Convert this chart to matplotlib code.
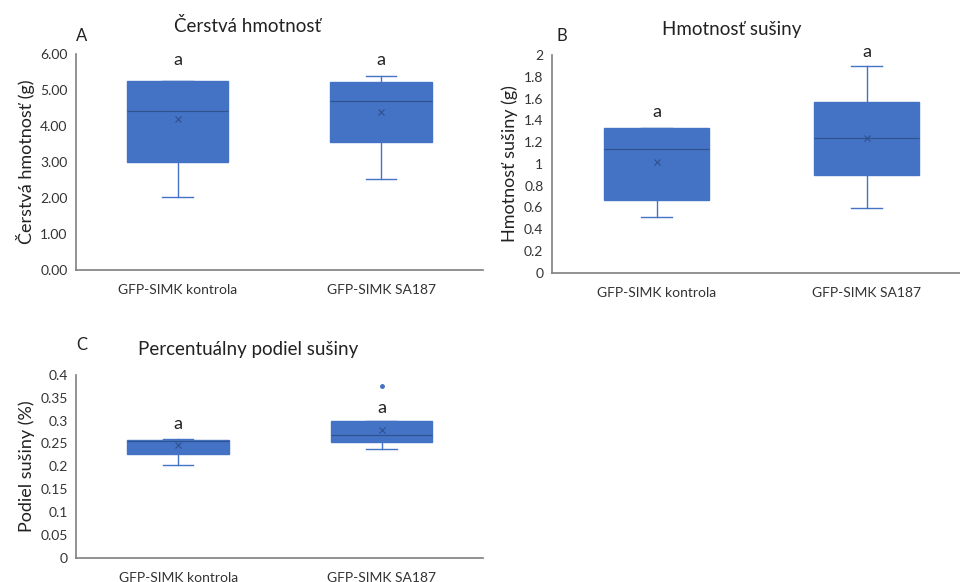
import matplotlib.pyplot as plt

plt.rcParams['font.family'] = ['Lato', 'DejaVu Sans']

# category labels
groups = ['GFP-SIMK kontrola', 'GFP-SIMK SA187']

# A - fresh weight (g)
a_q1 = [3.00, 3.56]
a_med = [4.42, 4.70]
a_q3 = [5.25, 5.23]
a_lo = [2.02, 2.53]
a_hi = [5.25, 5.40]
a_mean = [4.19, 4.38]
a_fliers = [[], []]
a_letters = ['a', 'a']
a_letter_y = [5.83, 5.83]

# B - dry weight (g)
b_q1 = [0.665, 0.90]
b_med = [1.137, 1.238]
b_q3 = [1.327, 1.569]
b_lo = [0.51, 0.595]
b_hi = [1.327, 1.90]
b_mean = [1.02, 1.24]
b_fliers = [[], []]
b_letters = ['a', 'a']
b_letter_y = [1.48, 2.03]

# C - dry matter share (%)
c_q1 = [0.228, 0.2525]
c_med = [0.255, 0.2686]
c_q3 = [0.2577, 0.299]
c_lo = [0.203, 0.239]
c_hi = [0.259, 0.299]
c_mean = [0.246, 0.2796]
c_fliers = [[], [0.376]]
c_letters = ['a', 'a']
c_letter_y = [0.292, 0.327]

BLUE = '#4472C4'
DARK = '#2F528F'
AXC = '#7f7f7f'


def make_stats(q1, med, q3, lo, hi, mean, fliers):
    out = []
    for i in range(len(q1)):
        out.append(dict(q1=q1[i], med=med[i], q3=q3[i], whislo=lo[i],
                        whishi=hi[i], mean=mean[i], fliers=fliers[i]))
    return out


def panel(ax, stats, letters, letter_y, ylim, yticks, fmt, ylabel):
    ax.bxp(stats, positions=[1, 2], widths=0.5, patch_artist=True,
           showmeans=True, capwidths=0.15,
           boxprops=dict(facecolor=BLUE, edgecolor=BLUE, linewidth=1),
           whiskerprops=dict(color=BLUE, linewidth=1),
           capprops=dict(color=BLUE, linewidth=1),
           medianprops=dict(color=DARK, linewidth=0.8),
           meanprops=dict(marker='x', markeredgecolor=DARK, markersize=5,
                          markeredgewidth=0.8),
           flierprops=dict(marker='o', markerfacecolor=BLUE,
                           markeredgecolor=BLUE, markersize=2.5))
    for i, t in enumerate(letters):
        ax.text(i + 1, letter_y[i], t, ha='center', va='center',
                fontsize=13, color='#222222', clip_on=False)
    ax.set_xlim(0.5, 2.5)
    ax.set_ylim(*ylim)
    ax.set_yticks(yticks)
    ax.set_yticklabels([fmt.format(v) for v in yticks])
    ax.set_xticks([1, 2])
    ax.set_xticklabels(groups)
    ax.tick_params(length=0, labelsize=10, colors='#333333', pad=6)
    ax.tick_params(axis='x', pad=10)
    for s in ['top', 'right']:
        ax.spines[s].set_visible(False)
    for s in ['left', 'bottom']:
        ax.spines[s].set_color(AXC)
        ax.spines[s].set_linewidth(1.2)
    ax.set_ylabel(ylabel, fontsize=13, color='#222222')


fig = plt.figure(figsize=(9.6, 5.82), dpi=100)

axA = fig.add_axes([0.079, 0.536, 0.424, 0.371])
panel(axA, make_stats(a_q1, a_med, a_q3, a_lo, a_hi, a_mean, a_fliers),
      a_letters, a_letter_y, (0, 6), [0, 1, 2, 3, 4, 5, 6], '{:.2f}',
      'Čerstvá hmotnosť (g)')

axB = fig.add_axes([0.5747, 0.5314, 0.4375, 0.3741])
panel(axB, make_stats(b_q1, b_med, b_q3, b_lo, b_hi, b_mean, b_fliers),
      b_letters, b_letter_y, (0, 2),
      [0, 0.2, 0.4, 0.6, 0.8, 1, 1.2, 1.4, 1.6, 1.8, 2], '{:g}',
      'Hmotnosť sušiny (g)')

axC = fig.add_axes([0.0795, 0.0418, 0.424, 0.3139])
panel(axC, make_stats(c_q1, c_med, c_q3, c_lo, c_hi, c_mean, c_fliers),
      c_letters, c_letter_y, (0, 0.4),
      [0, 0.05, 0.1, 0.15, 0.2, 0.25, 0.3, 0.35, 0.4], '{:g}',
      'Podiel sušiny (%)')

# titles and panel letters
fig.text(248 / 960, 1 - 26 / 582, 'Čerstvá hmotnosť', ha='center', va='center',
         fontsize=13.5, color='#222222')
fig.text(76 / 960, 1 - 36 / 582, 'A', ha='left', va='center', fontsize=12,
         color='#222222')
fig.text(732 / 960, 1 - 30 / 582, 'Hmotnosť sušiny', ha='center', va='center',
         fontsize=13.5, color='#222222')
fig.text(556 / 960, 1 - 36 / 582, 'B', ha='left', va='center', fontsize=12,
         color='#222222')
fig.text(248 / 960, 1 - 350 / 582, 'Percentuálny podiel sušiny', ha='center',
         va='center', fontsize=13.5, color='#222222')
fig.text(76 / 960, 1 - 345 / 582, 'C', ha='left', va='center', fontsize=12,
         color='#222222')

fig.savefig('out.png', dpi=100)
